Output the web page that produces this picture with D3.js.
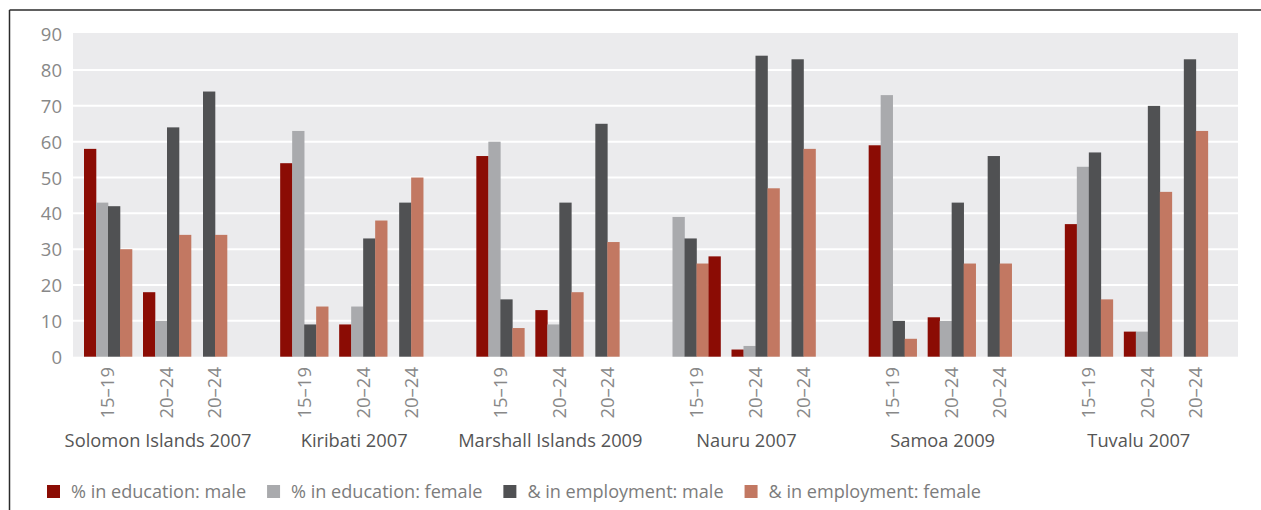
<!DOCTYPE html>
<html>
<head>
<meta charset="utf-8">
<script src="https://cdn.jsdelivr.net/npm/d3@7"></script>
<style>
  html, body { margin: 0; padding: 0; background: #ffffff; }
  svg { display: block; font-family: "Open Sans", sans-serif; }
</style>
</head>
<body>
<svg id="chart" width="1261" height="510"></svg>
<script>
// ---- data ----
const countries = ["Solomon Islands 2007", "Kiribati 2007", "Marshall Islands 2009", "Nauru 2007", "Samoa 2009", "Tuvalu 2007"];
const ageLabels = ["15–19", "20–24", "20–24"];
const seriesKeys = ["eduM", "eduF", "empM", "empF"];
const seriesNames = ["% in education: male", "% in education: female", "& in employment: male", "& in employment: female"];
const seriesColors = ["#8b0c04", "#a9aaad", "#505153", "#c27862"];
const yTicks = [0, 10, 20, 30, 40, 50, 60, 70, 80, 90];

// values per country, three clusters each (null = no bar)
const eduM = [[58, 18, null], [54, 9, null], [56, 13, null], [28, 2, null], [59, 11, null], [37, 7, null]];
const eduF = [[43, 10, null], [63, 14, null], [60, 9, null], [39, 3, null], [73, 10, null], [53, 7, null]];
const empM = [[42, 64, 74], [9, 33, 43], [16, 43, 65], [33, 84, 83], [10, 43, 56], [57, 70, 83]];
const empF = [[30, 34, 34], [14, 38, 50], [8, 18, 32], [26, 47, 58], [5, 26, 26], [16, 46, 63]];
// bar order inside a cluster (Nauru 15–19 shows male education last)
const defaultOrder = ["eduM", "eduF", "empM", "empF"];
const orderOverrides = { "Nauru 2007|0": ["eduF", "empM", "empF", "eduM"] };

const seriesValues = { eduM, eduF, empM, empF };

// ---- layout ----
const svg = d3.select("#chart");
const plotLeft = 73, plotRight = 1238, plotTop = 33;
const y = d3.scaleLinear().domain([0, 90]).range([356.7, 34.2]);
const xGroup = d3.scaleBand().domain(countries).range([10, 1187]).paddingInner(0).paddingOuter(0);
const clusterOffsets = [98, 157, 205];
const labelOffset = 148;
const barW = 12;
const color = d3.scaleOrdinal().domain(seriesKeys).range(seriesColors);

// frame
svg.append("line").attr("x1", 9.5).attr("x2", 1261).attr("y1", 10).attr("y2", 10)
  .attr("stroke", "#2b2b2b").attr("stroke-width", 1.5);
svg.append("line").attr("x1", 9.5).attr("x2", 9.5).attr("y1", 10).attr("y2", 510)
  .attr("stroke", "#2b2b2b").attr("stroke-width", 1.5);

// plot background
svg.append("rect").attr("x", plotLeft).attr("y", plotTop)
  .attr("width", plotRight - plotLeft).attr("height", y(0) - plotTop)
  .attr("fill", "#ebebed");

// gridlines
svg.append("g").selectAll("line").data(yTicks.filter(t => t > 0 && t < 90)).join("line")
  .attr("x1", plotLeft).attr("x2", plotRight)
  .attr("y1", d => y(d)).attr("y2", d => y(d))
  .attr("stroke", "#ffffff").attr("stroke-width", 2);

// y axis labels
const yAxis = d3.axisLeft(y).tickValues(yTicks).tickSize(0).tickPadding(0);
const yg = svg.append("g").attr("transform", "translate(62,0)").call(yAxis);
yg.select(".domain").remove();
yg.selectAll("text").attr("fill", "#888888").style("font-size", "18.5px")
  .style("font-family", "'Open Sans', sans-serif").attr("dy", "0.35em");

// bars
const clusters = [];
countries.forEach((c, gi) => {
  ageLabels.forEach((age, ci) => {
    const order = orderOverrides[c + "|" + ci] || defaultOrder;
    const present = order.filter(k => seriesValues[k][gi][ci] !== null);
    const cx = xGroup(c) + clusterOffsets[ci];
    const inner = d3.scaleBand().domain(present)
      .range([cx - present.length * barW / 2, cx + present.length * barW / 2]);
    clusters.push({ country: c, age, cx, bars: present.map(k => ({ key: k, value: seriesValues[k][gi][ci], x: inner(k), w: inner.bandwidth() })) });
  });
});

const gBars = svg.append("g");
clusters.forEach(cl => {
  gBars.selectAll(null).data(cl.bars).join("rect")
    .attr("x", d => d.x).attr("width", d => d.w + 0.3)
    .attr("y", d => y(d.value)).attr("height", d => y(0) - y(d.value))
    .attr("fill", d => color(d.key));
});

// age tick labels (rotated)
svg.append("g").selectAll("text").data(clusters).join("text")
  .attr("transform", d => `translate(${d.cx},367) rotate(-90)`)
  .attr("text-anchor", "end").attr("dy", "0.35em")
  .attr("fill", "#888888").style("font-size", "18.5px")
  .text(d => d.age);

// country labels
svg.append("g").selectAll("text").data(countries).join("text")
  .attr("x", d => xGroup(d) + labelOffset).attr("y", 447)
  .attr("text-anchor", "middle").attr("fill", "#555555").style("font-size", "18.3px")
  .text(d => d);

// legend
const legend = svg.append("g");
let lx = 47;
seriesKeys.forEach((k, i) => {
  legend.append("rect").attr("x", lx).attr("y", 485).attr("width", 13).attr("height", 13)
    .attr("fill", seriesColors[i]);
  const t = legend.append("text").attr("x", lx + 24).attr("y", 498)
    .attr("fill", "#7c7c7c").style("font-size", "18.1px").text(seriesNames[i]);
  lx = lx + 24 + t.node().getComputedTextLength() + 21;
});
</script>
</body>
</html>
